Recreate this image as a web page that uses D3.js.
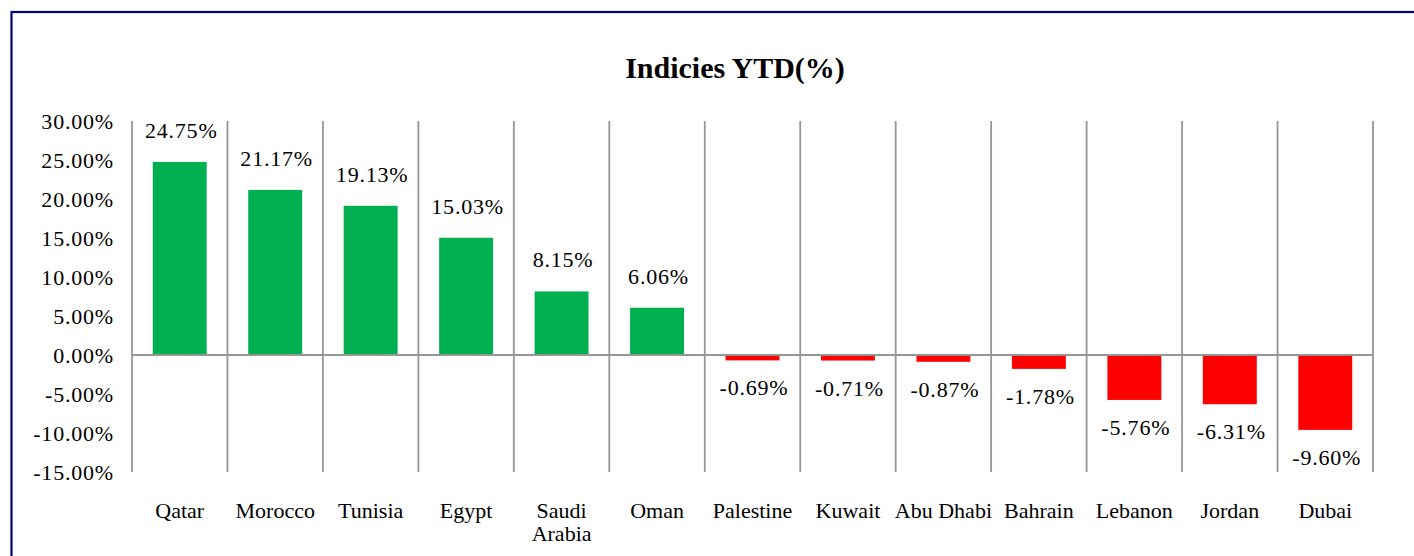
<!DOCTYPE html>
<html>
<head>
<meta charset="utf-8">
<script src="https://cdn.jsdelivr.net/npm/d3@7"></script>
<style>
html,body{margin:0;padding:0;background:#fff;}
svg{display:block;}
text{font-family:"Liberation Serif","Times New Roman",serif;fill:#000;}
</style>
</head>
<body>
<svg id="chart" width="1414" height="556"></svg>
<script>
const categories = ["Qatar","Morocco","Tunisia","Egypt","Saudi Arabia","Oman","Palestine","Kuwait","Abu Dhabi","Bahrain","Lebanon","Jordan","Dubai"];
const values = [24.75,21.17,19.13,15.03,8.15,6.06,-0.69,-0.71,-0.87,-1.78,-5.76,-6.31,-9.60];
const yTicks = [30,25,20,15,10,5,0,-5,-10,-15];
const title = "Indicies YTD(%)";

const svg = d3.select("#chart");
const plot = {left:132, right:1373, top:121, bottom:472};

// outer border
svg.append("rect")
  .attr("x",11.5).attr("y",12).attr("width",1460).attr("height",600)
  .attr("fill","none").attr("stroke","#000080").attr("stroke-width",2.2);

const x = d3.scaleBand().domain(categories).range([plot.left, plot.right]).paddingInner(0).paddingOuter(0);
const y = d3.scaleLinear().domain([-15,30]).range([plot.bottom, plot.top]);

// title
svg.append("text")
  .attr("x",735).attr("y",78)
  .attr("text-anchor","middle")
  .attr("font-size",30).attr("font-weight","bold")
  .text(title);

// vertical grid lines at category boundaries
const bounds = categories.map(c => x(c)).concat([x(categories[categories.length-1]) + x.bandwidth()]);
svg.append("g").selectAll("line").data(bounds).join("line")
  .attr("x1",d=>d).attr("x2",d=>d)
  .attr("y1",y(30)).attr("y2",y(-15))
  .attr("stroke","#969696").attr("stroke-width",1.8);

// bars
const bw = x.bandwidth()*0.565;
svg.append("g").selectAll("rect").data(values).join("rect")
  .attr("x",(d,i)=> x(categories[i]) + (x.bandwidth()-bw)/2)
  .attr("y",d=> d>=0 ? y(d) : y(0))
  .attr("width",bw)
  .attr("height",d=> Math.abs(y(d)-y(0)))
  .attr("fill",d=> d>=0 ? "#00B050" : "#FF0000");

// zero line
svg.append("line")
  .attr("x1",plot.left).attr("x2",plot.right)
  .attr("y1",y(0)).attr("y2",y(0))
  .attr("stroke","#969696").attr("stroke-width",1.8);

// y axis labels
const yAxis = d3.axisLeft(y).tickValues(yTicks).tickSize(0).tickPadding(0)
  .tickFormat(d => d.toFixed(2) + "%");
const gy = svg.append("g").attr("transform",`translate(114,0)`).call(yAxis);
gy.select(".domain").remove();
gy.selectAll("text")
  .attr("font-family","'Liberation Serif','Times New Roman',serif")
  .attr("font-size",22).attr("fill","#000").attr("dy","0.35em")
  .attr("letter-spacing","0.8px");

// x axis labels
const xAxis = d3.axisBottom(x).tickSize(0).tickPadding(0);
const gx = svg.append("g").attr("transform",`translate(0,502)`).call(xAxis);
gx.select(".domain").remove();
gx.selectAll("text")
  .attr("font-family","'Liberation Serif','Times New Roman',serif")
  .attr("font-size",22).attr("fill","#000").attr("dy","0.71em")
  .each(function(d){
    const t = d3.select(this);
    if (this.getComputedTextLength() > 105) {
      const words = d.split(" ");
      t.text(null);
      words.forEach((w,i)=>{
        t.append("tspan").attr("x",0).attr("dy", i===0 ? "0.71em" : "1.05em").text(w);
      });
    }
  });

// data labels
svg.append("g").selectAll("text").data(values).join("text")
  .attr("x",(d,i)=> x(categories[i]) + x.bandwidth()/2 + 1.5)
  .attr("y",d=> d>=0 ? y(d) - 24 : y(d) + 35)
  .attr("text-anchor","middle")
  .attr("font-size",22)
  .attr("letter-spacing","0.8px")
  .text(d => d.toFixed(2) + "%");
</script>
</body>
</html>
